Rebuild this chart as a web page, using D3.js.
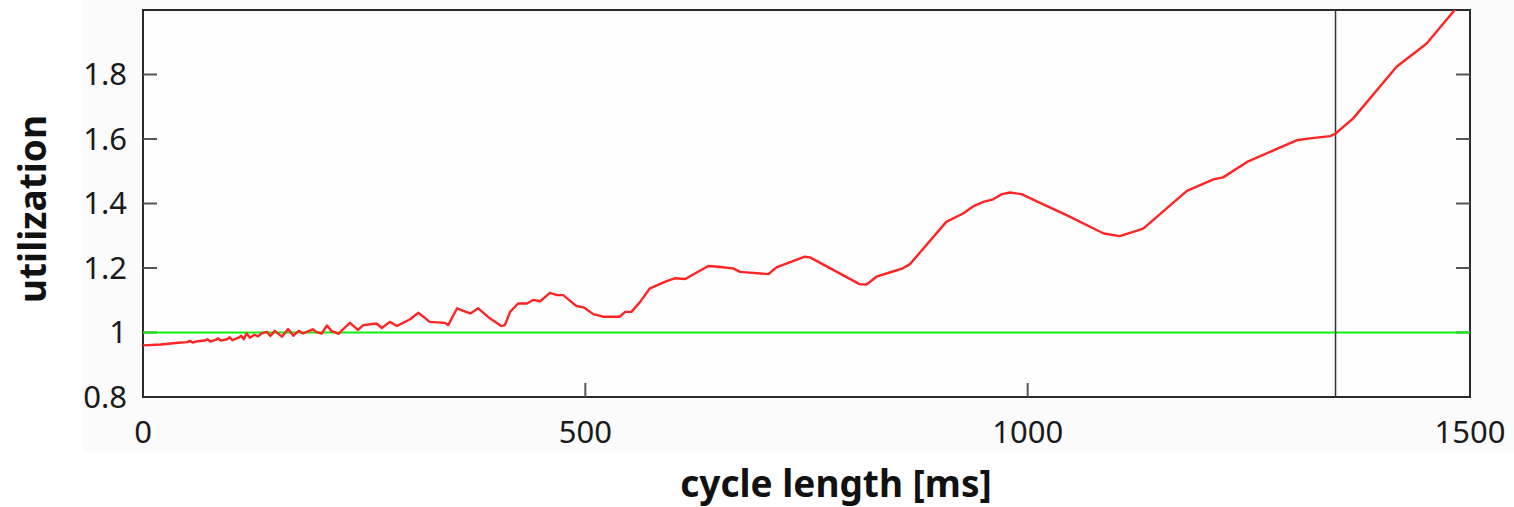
<!DOCTYPE html>
<html lang="en">
<head>
    <meta charset="utf-8">
    <title>utilization vs cycle length</title>
    <script type="text/javascript" src="https://d3js.org/d3.v7.min.js"></script>
    <style>
        body { margin: 0; background: #ffffff; }
        .tick-label { font-family: "Noto Sans", sans-serif; font-size: 31px; fill: #1a1a1a; }
        .axis-title { font-family: "Noto Sans", sans-serif; font-size: 37px; font-weight: bold; fill: #111; }
        .frame { fill: #fefefe; stroke: #2a2a2a; stroke-width: 2; }
        .tickmark { stroke: #555; stroke-width: 2; }
    </style>
</head>
<body>
<div id="container"></div>
<script type="text/javascript">
    const w = 1514;
    const h = 507;

    // cycle length [ms]
    const cycleLength = [
        0, 20, 40, 50, 53, 56, 62, 70, 73, 76, 82, 85, 88, 95, 98, 101, 108, 111, 114,
        117, 121, 126, 130, 134, 140, 144, 149, 157, 164, 170, 176, 181, 192, 196, 202,
        208, 213, 221, 226, 234, 243, 249, 264, 270, 279, 287, 294, 302, 311, 317, 324,
        341, 345, 355, 362, 370, 379, 392, 405, 409, 415, 424, 434, 441, 449, 460, 468,
        475, 490, 498, 509, 520, 539, 545, 552, 562, 573, 584, 592, 601, 613, 624, 639,
        650, 667, 675, 707, 716, 748, 754, 810, 818, 829, 844, 859, 867, 908, 927, 939,
        950, 961, 971, 980, 993, 1014, 1044, 1086, 1104, 1123, 1131, 1180, 1210, 1221,
        1248, 1304, 1319, 1342, 1348, 1368, 1417, 1451, 1483, 1495
    ];
    // utilization
    const utilization = [
        0.960, 0.963, 0.968, 0.970, 0.974, 0.969, 0.973, 0.975, 0.979, 0.972, 0.977, 0.982, 0.975, 0.979, 0.985, 0.976, 0.984, 0.990, 0.979,
        0.997, 0.984, 0.993, 0.988, 0.997, 1.002, 0.989, 1.005, 0.987, 1.011, 0.990, 1.005, 0.997, 1.010, 1.001, 0.997,
        1.022, 1.005, 0.996, 1.010, 1.030, 1.008, 1.023, 1.028, 1.014, 1.033, 1.020, 1.030, 1.041, 1.061, 1.049, 1.033,
        1.030, 1.023, 1.075, 1.067, 1.059, 1.075, 1.044, 1.020, 1.023, 1.064, 1.090, 1.090, 1.101, 1.097, 1.123, 1.116,
        1.116, 1.082, 1.078, 1.057, 1.049, 1.049, 1.064, 1.064, 1.095, 1.137, 1.150, 1.159, 1.168, 1.166, 1.183, 1.206,
        1.204, 1.199, 1.188, 1.181, 1.202, 1.235, 1.233, 1.150, 1.149, 1.173, 1.186, 1.199, 1.212, 1.343, 1.369, 1.392,
        1.405, 1.413, 1.429, 1.434, 1.429, 1.402, 1.364, 1.307, 1.299, 1.315, 1.323, 1.439, 1.475, 1.481,
        1.529, 1.596, 1.602, 1.609, 1.617, 1.664, 1.824, 1.896, 2.001, 2.04
    ];

    const xTicks = [0, 500, 1000, 1500];
    const yTicks = [0.8, 1, 1.2, 1.4, 1.6, 1.8];
    const referenceLevel = 1;
    const markerLength = 1348;

    const margin = {left: 143, right: 44, top: 10, bottom: 110};
    const x = d3.scaleLinear().domain([0, 1500]).range([margin.left, w - margin.right]);
    const y = d3.scaleLinear().domain([0.8, 2.0]).range([h - margin.bottom, margin.top]);

    const svg = d3.select("div#container").append("svg")
        .attr("width", w).attr("height", h);

    // faint backdrop behind the plot and tick labels
    svg.append("rect").attr("x", 82).attr("y", 0).attr("width", w - 82).attr("height", 452)
        .attr("fill", "#fbfbfb");

    svg.append("rect").attr("class", "frame")
        .attr("x", x(0)).attr("y", y(2.0))
        .attr("width", x(1500) - x(0)).attr("height", y(0.8) - y(2.0));

    svg.append("clipPath").attr("id", "plot-clip").append("rect")
        .attr("x", x(0)).attr("y", y(2.0))
        .attr("width", x(1500) - x(0)).attr("height", y(0.8) - y(2.0));

    // inward tick marks, left + right + bottom
    const tl = 14;
    svg.selectAll("line.yl").data(yTicks.slice(1)).enter().append("line").attr("class", "tickmark")
        .attr("x1", x(0)).attr("x2", x(0) + tl).attr("y1", d => y(d)).attr("y2", d => y(d));
    svg.selectAll("line.yr").data(yTicks.slice(1)).enter().append("line").attr("class", "tickmark")
        .attr("x1", x(1500)).attr("x2", x(1500) - tl).attr("y1", d => y(d)).attr("y2", d => y(d));
    svg.selectAll("line.xb").data(xTicks.slice(1, 3)).enter().append("line").attr("class", "tickmark")
        .attr("x1", d => x(d)).attr("x2", d => x(d)).attr("y1", y(0.8)).attr("y2", y(0.8) - tl);

    const plot = svg.append("g").attr("clip-path", "url(#plot-clip)");

    // reference line at 1
    plot.append("line")
        .attr("x1", x(0)).attr("x2", x(1500))
        .attr("y1", y(referenceLevel)).attr("y2", y(referenceLevel))
        .attr("stroke", "#10f010").attr("stroke-width", 2);

    // vertical marker
    plot.append("line")
        .attr("x1", x(markerLength)).attr("x2", x(markerLength))
        .attr("y1", y(2.0)).attr("y2", y(0.8))
        .attr("stroke", "#333").attr("stroke-width", 1.5);

    const pts = cycleLength.map((c, i) => [c, utilization[i]]);
    const line = d3.line().x(d => x(d[0])).y(d => y(d[1]));
    plot.append("path").datum(pts)
        .attr("d", line)
        .attr("fill", "none")
        .attr("stroke", "#ff2424")
        .attr("stroke-width", 2.4)
        .attr("stroke-linejoin", "round");

    // tick labels
    svg.selectAll("text.ylab").data(yTicks).enter().append("text")
        .attr("class", "tick-label")
        .attr("x", 127).attr("y", d => y(d))
        .attr("dy", "0.35em")
        .attr("text-anchor", "end")
        .text(d => d3.format("")(d));
    svg.selectAll("text.xlab").data(xTicks).enter().append("text")
        .attr("class", "tick-label")
        .attr("x", d => x(d)).attr("y", 432)
        .attr("dy", "0.35em")
        .attr("text-anchor", "middle")
        .text(d => d);

    // axis titles
    svg.append("text").attr("class", "axis-title")
        .attr("x", 836).attr("y", 497)
        .attr("text-anchor", "middle")
        .text("cycle length [ms]");
    svg.append("text").attr("class", "axis-title")
        .attr("transform", "translate(46,209) rotate(-90)")
        .attr("text-anchor", "middle")
        .text("utilization");
</script>
</body>
</html>
